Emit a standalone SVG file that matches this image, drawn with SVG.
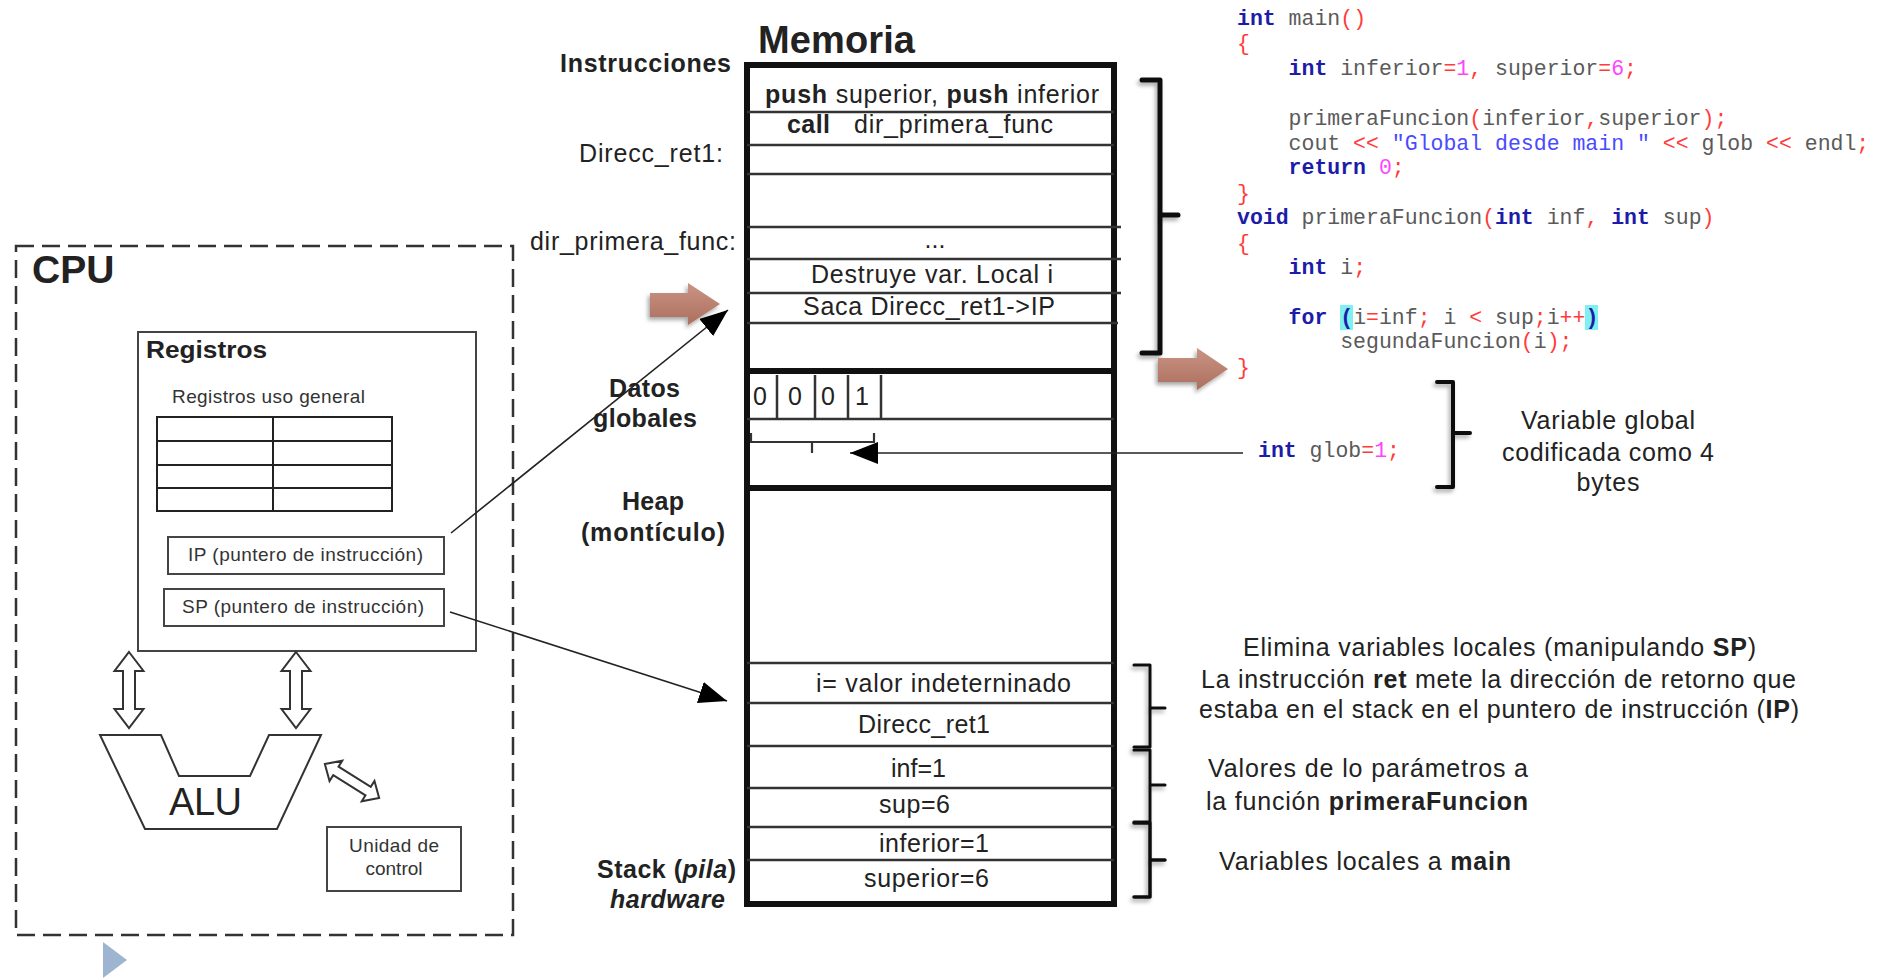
<svg xmlns="http://www.w3.org/2000/svg" width="1881" height="978" viewBox="0 0 1881 978">
<style>
text{font-family:"Liberation Sans",Arial,sans-serif;fill:#222;}
.b{font-weight:bold;}
.lbl{font-size:25px;}
.sm{font-size:19px;fill:#333;}
.ln{stroke:#333;stroke-width:2.5;fill:none;}
.thick{stroke:#111;stroke-width:6;fill:none;}
.box{stroke:#444;stroke-width:2;fill:#fff;}
.hollow{stroke:#333;stroke-width:2;fill:#fff;stroke-linejoin:miter;}
.br{stroke:#111;fill:none;stroke-linejoin:round;stroke-linecap:round;}
.conn{stroke:#222;stroke-width:1.6;fill:none;}
.code{font-family:"Liberation Mono","Courier New",monospace;font-size:21.5px;white-space:pre;}
.kw{fill:#1c1ca8;font-weight:bold;}
.id{fill:#5a5a5a;}
.p{fill:#ff3b3b;}
.num{fill:#ff44ff;}
.str{fill:#4a4aff;}
.hl{fill:#7ff0f0;}
.brown{fill:url(#bg);}
</style>
<defs>
<marker id="ah" markerUnits="userSpaceOnUse" markerWidth="30" markerHeight="22" refX="28" refY="11" orient="auto">
<path d="M0,0 L28,11 L0,22 Z" fill="#000"/>
</marker>
<linearGradient id="bg" x1="0" y1="0" x2="0" y2="1">
<stop offset="0" stop-color="#c99484"/>
<stop offset="1" stop-color="#ad6f5e"/>
</linearGradient>
<filter id="sh" x="-30%" y="-30%" width="160%" height="160%">
<feGaussianBlur in="SourceAlpha" stdDeviation="2"/>
<feOffset dx="-2" dy="3" result="o"/>
<feComponentTransfer><feFuncA type="linear" slope="0.35"/></feComponentTransfer>
<feMerge><feMergeNode/><feMergeNode in="SourceGraphic"/></feMerge>
</filter>
</defs>
<rect width="1881" height="978" fill="#fff"/>

<g id="cpu">
<rect x="16" y="246" width="497" height="689" fill="none" stroke="#333" stroke-width="2.5" stroke-dasharray="18 8"/>
<text x="32" y="283" class="b" font-size="39">CPU</text>
</g>

<g id="registros">
<rect x="138" y="332" width="338" height="319" class="box"/>
<text x="146" y="358" class="b" font-size="23" textLength="121" lengthAdjust="spacingAndGlyphs">Registros</text>
<text x="172" y="403" class="sm" textLength="193">Registros uso general</text>
</g>

<g id="registros-uso-general">
<rect x="157" y="417" width="235" height="94" fill="none" stroke="#222" stroke-width="2"/>
<path d="M157,441 H392 M157,465 H392 M157,488 H392 M273,417 V511" stroke="#222" stroke-width="2" fill="none"/>
</g>

<g id="ip">
<rect x="168" y="537" width="276" height="37" class="box"/>
<text x="188" y="561" class="sm" textLength="235">IP (puntero de instrucción)</text>
</g>

<g id="sp">
<rect x="164" y="589" width="280" height="37" class="box"/>
<text x="182" y="613" class="sm" textLength="242">SP (puntero de instrucción)</text>
</g>

<g id="bus-arrows">
<path class="hollow" d="M129,652 L143.5,671 L135,671 L135,709 L143.5,709 L129,728 L114.5,709 L123,709 L123,671 L114.5,671 Z"/>
<path class="hollow" d="M296,652 L310.5,671 L302,671 L302,709 L310.5,709 L296,728 L281.5,709 L290,709 L290,671 L281.5,671 Z"/>
<path class="hollow" transform="translate(352,781) rotate(32)" d="M-32,0 L-19,-12 L-19,-5 L19,-5 L19,-12 L32,0 L19,12 L19,5 L-19,5 L-19,12 Z"/>
</g>

<g id="alu">
<polygon points="100,735 161,735 179,776 250,776 269,735 321,735 277,829 145,829" fill="#fff" stroke="#333" stroke-width="2"/>
<text x="169" y="815" font-size="38" textLength="73">ALU</text>
</g>

<g id="unidad-control">
<rect x="327" y="827" width="134" height="64" class="box"/>
<text x="394" y="852" class="sm" text-anchor="middle" textLength="90">Unidad de</text>
<text x="394" y="875" class="sm" text-anchor="middle">control</text>
</g>

<polygon id="nav-triangle" points="103,942 127,960 103,978" fill="#9db5d1"/>

<g id="memoria">
<text x="758" y="53" class="b" font-size="38" textLength="157">Memoria</text>
<text x="560" y="72" class="b lbl" textLength="171">Instrucciones</text>
<rect x="747" y="65" width="367" height="839" class="thick"/>
<path class="ln" d="M747,112 H1114 M747,145 H1114 M747,174 H1114 M747,227 H1121 M747,259 H1121 M747,293 H1121 M747,323 H1118"/>
<path class="thick" d="M747,371 H1114 M747,488 H1114"/>
<path class="ln" d="M747,419 H1114 M777,375 V419 M815,375 V419 M848,375 V419 M881,375 V419"/>
<path class="ln" d="M747,663 H1114 M747,703 H1114 M747,746 H1114 M747,788 H1114 M747,827 H1114 M747,860 H1114"/>
</g>

<g id="instrucciones">
<text x="765" y="103" class="lbl" textLength="334"><tspan class="b">push</tspan> superior, <tspan class="b">push</tspan> inferior</text>
<text x="787" y="133" class="lbl b" textLength="43">call</text>
<text x="854" y="133" class="lbl" textLength="199">dir_primera_func</text>
<text x="579" y="162" class="lbl" textLength="144">Direcc_ret1:</text>
<text x="530" y="250" class="lbl" textLength="206">dir_primera_func:</text>
<text x="935" y="248" class="lbl" text-anchor="middle">...</text>
<text x="811" y="283" class="lbl" textLength="242">Destruye var. Local i</text>
<text x="803" y="315" class="lbl" textLength="252">Saca Direcc_ret1-&gt;IP</text>
</g>

<g id="datos-globales">
<text x="609" y="397" class="lbl b" textLength="71">Datos</text>
<text x="593" y="427" class="lbl b" textLength="104">globales</text>
<text x="760" y="405" class="lbl" text-anchor="middle">0</text>
<text x="795" y="405" class="lbl" text-anchor="middle">0</text>
<text x="828" y="405" class="lbl" text-anchor="middle">0</text>
<text x="862" y="405" class="lbl" text-anchor="middle">1</text>
<path d="M751,433 V442 H874 V433 M812,442 V453" stroke="#333" stroke-width="2.2" fill="none"/>
</g>

<g id="heap">
<text x="622" y="510" class="lbl b" textLength="62">Heap</text>
<text x="581" y="541" class="lbl b" textLength="144">(montículo)</text>
</g>

<g id="stack">
<text x="816" y="692" class="lbl" textLength="255">i= valor indeterninado</text>
<text x="858" y="733" class="lbl" textLength="132">Direcc_ret1</text>
<text x="891" y="777" class="lbl" textLength="55">inf=1</text>
<text x="879" y="813" class="lbl" textLength="71">sup=6</text>
<text x="879" y="852" class="lbl" textLength="110">inferior=1</text>
<text x="864" y="887" class="lbl" textLength="125">superior=6</text>
<text x="597" y="878" class="lbl b" textLength="139">Stack (<tspan font-style="italic">pila</tspan>)</text>
<text x="610" y="908" class="lbl b" font-style="italic" textLength="115">hardware</text>
</g>

<g id="brackets" filter="url(#sh)">
<path class="br" stroke-width="5" d="M1142,80 H1160 V353 H1142 M1160,215 H1178"/>
<path class="br" stroke-width="3" d="M1134,665 H1150 V747 H1134 M1150,708 H1165"/>
<path class="br" stroke-width="3" d="M1134,750 H1150 V822 H1134 M1150,785 H1165"/>
<path class="br" stroke-width="3.5" d="M1134,823 H1150 V897 H1134 M1150,860 H1165"/>
<path class="br" stroke-width="4" d="M1437,382 H1453 V487 H1437 M1453,433 H1470"/>
</g>

<g id="pointers" filter="url(#sh)">
<polygon class="brown" points="650,293 688,293 688,283 720,304 688,325 688,317 650,317"/>
<polygon class="brown" points="1158,358 1197,358 1197,348 1228,369 1197,390 1197,382 1158,382"/>
</g>

<g id="codigo">
<text x="1237" y="25" class="code"><tspan class="kw">int</tspan><tspan class="id"> main</tspan><tspan class="p">()</tspan></text>
<text x="1237" y="50" class="code"><tspan class="p">{</tspan></text>
<text x="1288.6" y="75" class="code"><tspan class="kw">int</tspan><tspan class="id"> inferior</tspan><tspan class="p">=</tspan><tspan class="num">1</tspan><tspan class="p">,</tspan><tspan class="id"> superior</tspan><tspan class="p">=</tspan><tspan class="num">6</tspan><tspan class="p">;</tspan></text>
<text x="1288.6" y="125" class="code"><tspan class="id">primeraFuncion</tspan><tspan class="p">(</tspan><tspan class="id">inferior</tspan><tspan class="p">,</tspan><tspan class="id">superior</tspan><tspan class="p">);</tspan></text>
<text x="1288.6" y="150" class="code"><tspan class="id">cout </tspan><tspan class="p">&lt;&lt;</tspan><tspan class="id"> </tspan><tspan class="str">"Global desde main "</tspan><tspan class="id"> </tspan><tspan class="p">&lt;&lt;</tspan><tspan class="id"> glob </tspan><tspan class="p">&lt;&lt;</tspan><tspan class="id"> endl</tspan><tspan class="p">;</tspan></text>
<text x="1288.6" y="174" class="code"><tspan class="kw">return</tspan><tspan class="id"> </tspan><tspan class="num">0</tspan><tspan class="p">;</tspan></text>
<text x="1237" y="200" class="code"><tspan class="p">}</tspan></text>
<text x="1237" y="224" class="code"><tspan class="kw">void</tspan><tspan class="id"> primeraFuncion</tspan><tspan class="p">(</tspan><tspan class="kw">int</tspan><tspan class="id"> inf</tspan><tspan class="p">,</tspan><tspan class="id"> </tspan><tspan class="kw">int</tspan><tspan class="id"> sup</tspan><tspan class="p">)</tspan></text>
<text x="1237" y="250" class="code"><tspan class="p">{</tspan></text>
<text x="1288.6" y="274" class="code"><tspan class="kw">int</tspan><tspan class="id"> i</tspan><tspan class="p">;</tspan></text>
<rect class="hl" x="1340" y="305" width="13" height="25"/>
<rect class="hl" x="1585" y="305" width="13" height="25"/>
<text x="1288.6" y="324" class="code"><tspan class="kw">for</tspan><tspan class="id"> </tspan><tspan class="kw">(</tspan><tspan class="id">i</tspan><tspan class="p">=</tspan><tspan class="id">inf</tspan><tspan class="p">;</tspan><tspan class="id"> i </tspan><tspan class="p">&lt;</tspan><tspan class="id"> sup</tspan><tspan class="p">;</tspan><tspan class="id">i</tspan><tspan class="p">++</tspan><tspan class="kw">)</tspan></text>
<text x="1340.2" y="348" class="code"><tspan class="id">segundaFuncion</tspan><tspan class="p">(</tspan><tspan class="id">i</tspan><tspan class="p">);</tspan></text>
<text x="1237" y="374" class="code"><tspan class="p">}</tspan></text>
</g>

<g id="glob-decl">
<text x="1258" y="457" class="code" font-size="22"><tspan class="kw">int</tspan><tspan class="id"> glob</tspan><tspan class="p">=</tspan><tspan class="num">1</tspan><tspan class="p">;</tspan></text>
</g>

<g id="anotaciones">
<text x="1608" y="429" class="lbl" text-anchor="middle" textLength="174">Variable global</text>
<text x="1608" y="461" class="lbl" text-anchor="middle" textLength="212">codificada como 4</text>
<text x="1608" y="491" class="lbl" text-anchor="middle" textLength="63">bytes</text>
<text x="1243" y="656" class="lbl" textLength="513">Elimina variables locales (manipulando <tspan class="b">SP</tspan>)</text>
<text x="1201" y="688" class="lbl" textLength="595">La instrucción <tspan class="b">ret</tspan> mete la dirección de retorno que</text>
<text x="1199" y="718" class="lbl" textLength="600">estaba en el stack en el puntero de instrucción (<tspan class="b">IP</tspan>)</text>
<text x="1208" y="777" class="lbl" textLength="320">Valores de lo parámetros a</text>
<text x="1206" y="810" class="lbl" textLength="322">la función <tspan class="b">primeraFuncion</tspan></text>
<text x="1219" y="870" class="lbl" textLength="292">Variables locales a <tspan class="b">main</tspan></text>
</g>

<g id="connectors">
<line class="conn" x1="451" y1="533" x2="728" y2="310" marker-end="url(#ah)"/>
<line class="conn" x1="450" y1="612" x2="727" y2="701" marker-end="url(#ah)"/>
<line class="conn" x1="1243" y1="453" x2="850" y2="453" marker-end="url(#ah)"/>
</g>
</svg>
